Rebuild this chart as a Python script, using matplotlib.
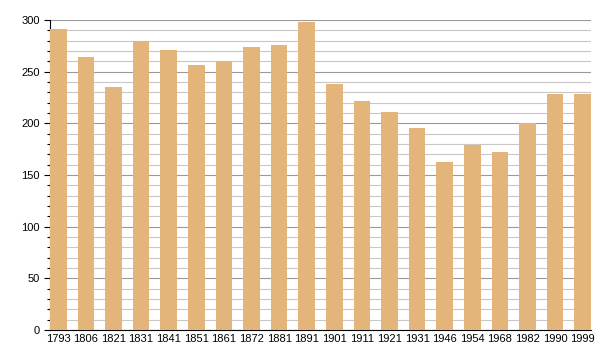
import numpy as np
import matplotlib.pyplot as plt
from matplotlib.ticker import MultipleLocator

years = ['1793', '1806', '1821', '1831', '1841', '1851', '1861', '1872', '1881', '1891',
         '1901', '1911', '1921', '1931', '1946', '1954', '1968', '1982', '1990', '1999']
population = [291, 264, 235, 280, 271, 256, 260, 274, 276, 298,
              238, 222, 211, 195, 163, 179, 172, 200, 228, 228]

plt.rcParams['font.family'] = ['Liberation Sans', 'DejaVu Sans']

fig = plt.figure(figsize=(6, 3.6), dpi=100)
ax = fig.add_axes([50 / 600, 30 / 360, 541 / 600, 310 / 360])

x = np.arange(len(years))
ax.bar(x, population, width=0.6, color='#e3b57b', zorder=3)

ax.set_xlim(-0.3, len(years) - 0.7)
ax.set_ylim(0, 300)
ax.set_xticks(x)
ax.set_xticklabels(years, fontsize=8)
ax.yaxis.set_major_locator(MultipleLocator(50))
ax.yaxis.set_minor_locator(MultipleLocator(10))
ax.tick_params(axis='y', which='major', labelsize=8, length=4, width=0.8)
ax.tick_params(axis='y', which='minor', length=2, width=0.8)
ax.tick_params(axis='x', length=0, pad=3)

ax.grid(axis='y', which='minor', color='#c8c8c8', linewidth=0.8, zorder=0)
ax.grid(axis='y', which='major', color='#999999', linewidth=0.8, zorder=0)
ax.set_axisbelow(True)

ax.spines['top'].set_visible(False)
ax.spines['right'].set_visible(False)

fig.savefig('out.png')
